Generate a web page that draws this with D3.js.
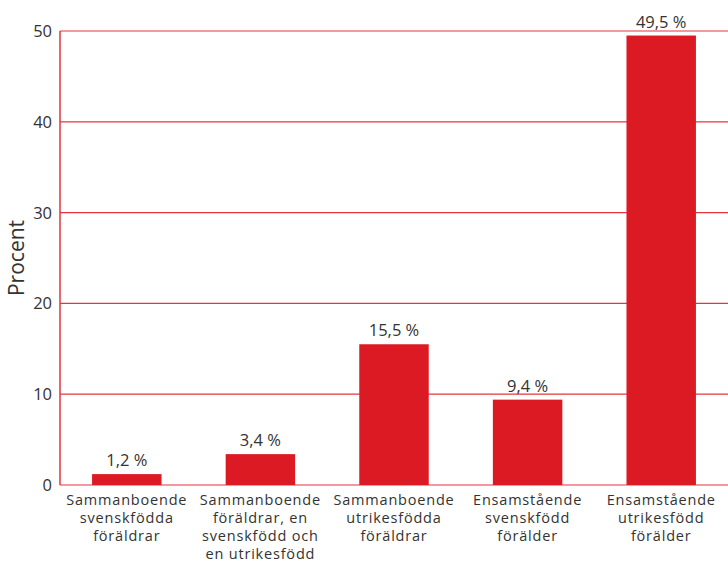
<!DOCTYPE html>
<html><head><meta charset="utf-8">
<script src="https://cdn.jsdelivr.net/npm/d3@7"></script>
<style>body{margin:0;background:#fff}svg{display:block}</style>
</head><body>
<script>
const categories = [
  ["Sammanboende","svenskfödda","föräldrar"],
  ["Sammanboende","föräldrar, en","svenskfödd och","en utrikesfödd"],
  ["Sammanboende","utrikesfödda","föräldrar"],
  ["Ensamstående","svenskfödd","förälder"],
  ["Ensamstående","utrikesfödd","förälder"]
];
const values = [1.2, 3.4, 15.5, 9.4, 49.5];
const valueLabels = ["1,2 %","3,4 %","15,5 %","9,4 %","49,5 %"];
const yTicks = [0,10,20,30,40,50];
const yTitle = "Procent";

const W=728,H=563, m={l:60,r:0,t:31,b:78};
const red="#dc1a24", grid="#e4343e", txt="#333";
const font="'Open Sans', sans-serif";
const svg=d3.select("body").append("svg").attr("width",W).attr("height",H);
const x=d3.scaleBand().domain(d3.range(categories.length)).range([m.l,W-m.r]).paddingInner(0.48).paddingOuter(0.24);
const y=d3.scaleLinear().domain([0,50]).range([H-m.b,m.t]);

const g=svg.append("g");
g.selectAll("line.grid").data(yTicks).join("line")
  .attr("x1",m.l).attr("x2",W).attr("y1",d=>y(d)).attr("y2",d=>y(d))
  .attr("stroke",grid).attr("stroke-width",1.2);
g.append("line").attr("x1",m.l).attr("x2",m.l).attr("y1",y(50)).attr("y2",y(0)).attr("stroke",grid).attr("stroke-width",1.5);

g.selectAll("text.yt").data(yTicks).join("text")
  .attr("x",m.l-8).attr("y",d=>y(d)).attr("dy","0.36em").attr("text-anchor","end")
  .attr("font-family",font).attr("font-size",16.5).attr("fill",txt).text(d=>d);

svg.append("text").attr("transform",`translate(24,${(y(0)+y(50))/2}) rotate(-90)`)
  .attr("text-anchor","middle").attr("font-family",font).attr("font-size",21).attr("fill",txt).text(yTitle);

g.selectAll("rect").data(values).join("rect")
  .attr("x",(d,i)=>x(i)).attr("width",x.bandwidth())
  .attr("y",d=>y(d)).attr("height",d=>y(0)-y(d)).attr("fill",red);

g.selectAll("text.vl").data(values).join("text")
  .attr("x",(d,i)=>x(i)+x.bandwidth()/2).attr("y",d=>y(d)-8).attr("text-anchor","middle")
  .attr("font-family",font).attr("font-size",16.5).attr("fill",txt).text((d,i)=>valueLabels[i]);

categories.forEach((lines,i)=>{
  lines.forEach((l,j)=>svg.append("text").attr("text-anchor","middle").attr("font-family",font)
    .attr("font-size",14.5).attr("letter-spacing",0.8).attr("fill",txt)
    .attr("x",x(i)+x.bandwidth()/2).attr("y",y(0)+19.5+j*18).text(l));
});
</script>
</body></html>
